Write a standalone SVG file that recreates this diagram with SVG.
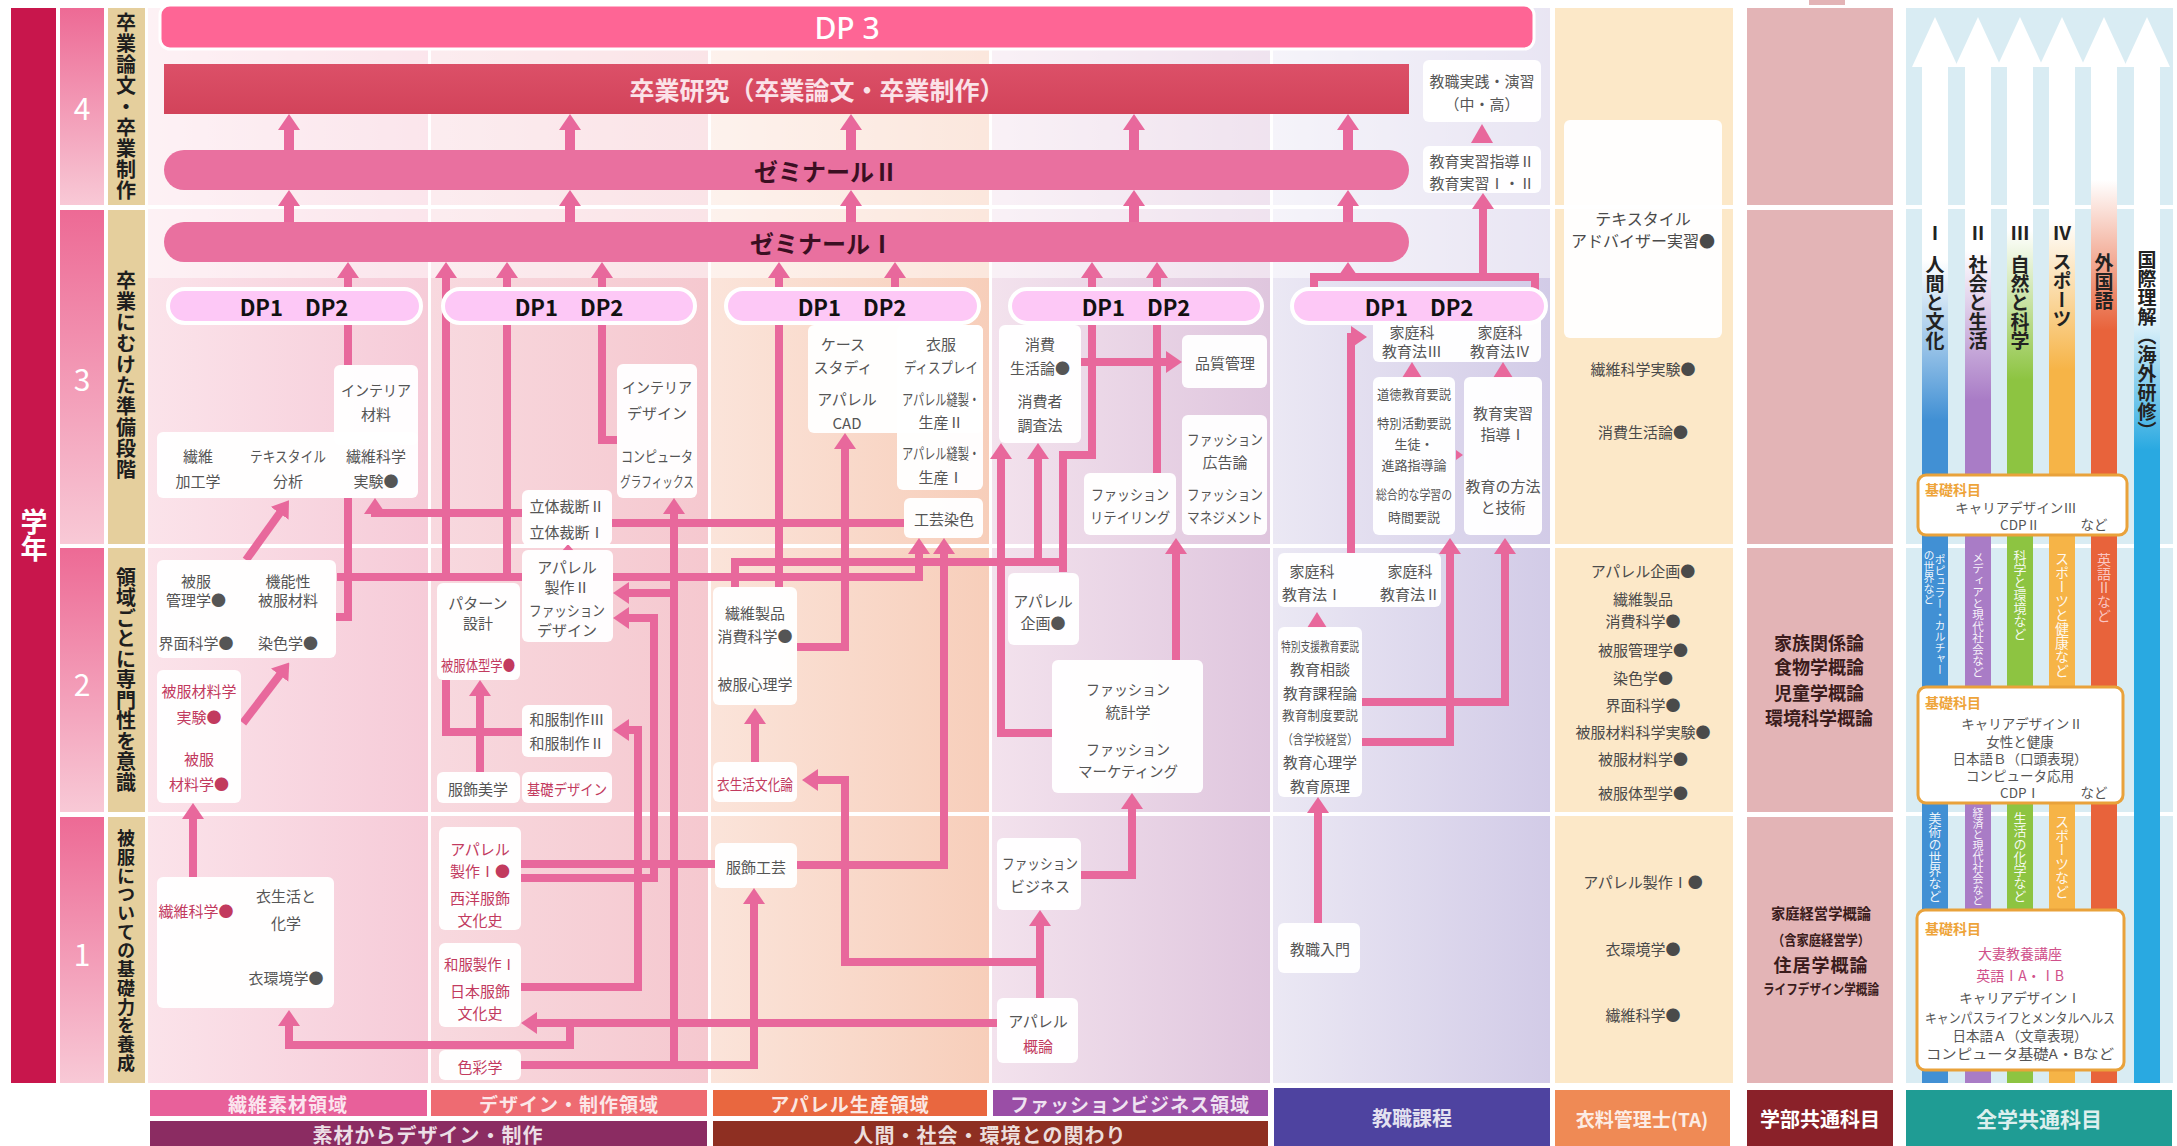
<svg xmlns="http://www.w3.org/2000/svg" width="2177" height="1146" viewBox="0 0 2177 1146">
<defs>
<style>
text{font-family:"Noto Sans CJK JP","Noto Sans",sans-serif}
.t{font-size:15px;fill:#555;text-anchor:middle;dominant-baseline:central}
.s{font-size:13px}
.r{fill:#c23a5e}
.bx{fill:#fff;opacity:.96}
.ln{fill:none;stroke:#e8689c;stroke-width:8}
.lw{fill:none;stroke:#e8689c;stroke-width:10}
.ar{marker-end:url(#ah)}
.ah{fill:#e8689c}
.pill{fill:#fdc8f6;stroke:#fff;stroke-width:4}
.dp{font-size:22px;font-weight:700;fill:#111;text-anchor:middle;dominant-baseline:central}
.v{writing-mode:vertical-rl;text-anchor:middle}
.lab{font-size:20px;font-weight:700;fill:#1e1e1e}
.bt{font-weight:700;text-anchor:middle;dominant-baseline:central}
.ta{font-size:15px;fill:#4a4a4a;text-anchor:middle;dominant-baseline:central}
.kb{fill:#fff;stroke:#e9a23b;stroke-width:3}
.kt{font-size:13.5px;fill:#555;text-anchor:middle;dominant-baseline:central}
.ko{font-size:14px;font-weight:700;fill:#eea43a;dominant-baseline:central}
.wv{writing-mode:vertical-rl;text-anchor:middle;fill:#fff;fill-opacity:.92}
.gl{font-size:19px;font-weight:700;fill:#222;writing-mode:vertical-rl;text-anchor:middle}
.gk{font-size:18px;font-weight:700;fill:#3b1c1c;text-anchor:middle;dominant-baseline:central}
</style>
<marker id="ah" viewBox="0 0 16 22" refX="4" refY="11" markerWidth="16" markerHeight="22" markerUnits="userSpaceOnUse" orient="auto"><path d="M0,0 L16,11 L0,22 z" fill="#e8689c"/></marker>
<linearGradient id="gy" x1="0" y1="0" x2="0" y2="1"><stop offset="0" stop-color="#ed6a95"/><stop offset="1" stop-color="#f8c9d6"/></linearGradient>
<linearGradient id="c1" x1="0" x2="1"><stop offset="0" stop-color="#fbe3ea"/><stop offset="1" stop-color="#f6cbd8"/></linearGradient>
<linearGradient id="c2" x1="0" x2="1"><stop offset="0" stop-color="#f8d9df"/><stop offset="1" stop-color="#f5c8cf"/></linearGradient>
<linearGradient id="c3" x1="0" x2="1"><stop offset="0" stop-color="#fbe4da"/><stop offset="1" stop-color="#f7ceba"/></linearGradient>
<linearGradient id="c4" x1="0" x2="1"><stop offset="0" stop-color="#f3e2ed"/><stop offset="1" stop-color="#dfc6de"/></linearGradient>
<linearGradient id="c5" x1="0" x2="1"><stop offset="0" stop-color="#ebe8f4"/><stop offset="1" stop-color="#d2cbe7"/></linearGradient>
<linearGradient id="k1" gradientUnits="userSpaceOnUse" x1="0" y1="260" x2="0" y2="420"><stop offset="0" stop-color="#fff"/><stop offset="1" stop-color="#4190d4"/></linearGradient>
<linearGradient id="k2" gradientUnits="userSpaceOnUse" x1="0" y1="250" x2="0" y2="400"><stop offset="0" stop-color="#fff"/><stop offset="1" stop-color="#a97cc6"/></linearGradient>
<linearGradient id="k3" gradientUnits="userSpaceOnUse" x1="0" y1="230" x2="0" y2="380"><stop offset="0" stop-color="#fff"/><stop offset="1" stop-color="#8dc441"/></linearGradient>
<linearGradient id="k4" gradientUnits="userSpaceOnUse" x1="0" y1="220" x2="0" y2="370"><stop offset="0" stop-color="#fff"/><stop offset="1" stop-color="#f6b447"/></linearGradient>
<linearGradient id="k5" gradientUnits="userSpaceOnUse" x1="0" y1="180" x2="0" y2="330"><stop offset="0" stop-color="#fff"/><stop offset="1" stop-color="#e8633b"/></linearGradient>
<linearGradient id="k6" gradientUnits="userSpaceOnUse" x1="0" y1="300" x2="0" y2="450"><stop offset="0" stop-color="#fff"/><stop offset="1" stop-color="#29a9e1"/></linearGradient>
<linearGradient id="gr" x1="0" y1="0" x2="0" y2="1"><stop offset="0" stop-color="#dc5068"/><stop offset="1" stop-color="#d2435a"/></linearGradient>
</defs>
<rect width="2177" height="1146" fill="#fff"/>

<g id="background">
<rect x="148" y="8" width="280" height="1075" fill="url(#c1)"/>
<rect x="431" y="8" width="277" height="1075" fill="url(#c2)"/>
<rect x="711" y="8" width="278" height="1075" fill="url(#c3)"/>
<rect x="992" y="8" width="278" height="1075" fill="url(#c4)"/>
<rect x="1273" y="8" width="277" height="1075" fill="url(#c5)"/>
<rect x="148" y="8" width="1402" height="270" fill="#fff" opacity="0.5"/>
<rect x="1555" y="8" width="178" height="1075" fill="#fce8c8"/>
<rect x="1747" y="8" width="146" height="197" fill="#e3b4b6"/>
<rect x="1747" y="210" width="146" height="334" fill="#e3b4b6"/>
<rect x="1747" y="548" width="146" height="264" fill="#e3b4b6"/>
<rect x="1747" y="817" width="146" height="266" fill="#e3b4b6"/>
<rect x="1809" y="0" width="36" height="5" fill="#e3b4b6"/>
<rect x="1906" y="8" width="267" height="1075" fill="#d9ecf3"/>
<rect x="146" y="205" width="2029" height="4" fill="#fff"/>
<rect x="146" y="544" width="2029" height="4" fill="#fff"/>
<rect x="146" y="812" width="2029" height="4" fill="#fff"/>
</g>

<g id="year-axis">
<rect x="11" y="8" width="45" height="1075" fill="#c8164c"/>
<text class="v" x="34" y="535" style="font-size:27px;font-weight:700;fill:#fff">学年</text>
<rect x="60" y="8" width="44" height="197" fill="url(#gy)"/>
<rect x="60" y="210" width="44" height="334" fill="url(#gy)"/>
<rect x="60" y="548" width="44" height="264" fill="url(#gy)"/>
<rect x="60" y="817" width="44" height="266" fill="url(#gy)"/>
<g style="font-size:30px;fill:#fff;text-anchor:middle;dominant-baseline:central">
<text x="82" y="107">4</text><text x="82" y="378">3</text><text x="82" y="683">2</text><text x="82" y="953">1</text>
</g>
<rect x="108" y="8" width="37" height="197" fill="#e5cf9d"/>
<rect x="108" y="210" width="37" height="334" fill="#e5cf9d"/>
<rect x="108" y="548" width="37" height="264" fill="#e5cf9d"/>
<rect x="108" y="817" width="37" height="266" fill="#e5cf9d"/>
<text class="v lab" x="126" y="107" style="letter-spacing:1px">卒業論文・卒業制作</text>
<text class="v lab" x="126" y="375" style="letter-spacing:1px">卒業にむけた準備段階</text>
<text class="v lab" x="126" y="680" style="letter-spacing:0.5px">領域ごとに専門性を意識</text>
<text class="v lab" x="126" y="951" style="font-size:18px;letter-spacing:0.7px">被服についての基礎力を養成</text>
</g>

<g id="zengaku-bars">
<path d="M1922,1083 V67 H1912 L1935,17 L1958,67 H1948 V1083 Z" fill="url(#k1)"/>
<path d="M1965,1083 V67 H1955 L1978,17 L2001,67 H1991 V1083 Z" fill="url(#k2)"/>
<path d="M2007,1083 V67 H1997 L2020,17 L2043,67 H2033 V1083 Z" fill="url(#k3)"/>
<path d="M2049,1083 V67 H2039 L2062,17 L2085,67 H2075 V1083 Z" fill="url(#k4)"/>
<path d="M2091,1083 V67 H2081 L2104,17 L2127,67 H2117 V1083 Z" fill="url(#k5)"/>
<path d="M2134,1083 V67 H2124 L2147,17 L2170,67 H2160 V1083 Z" fill="url(#k6)"/>
<text class="gl" x="1935" y="233">Ⅰ</text><text class="gl" x="1935" y="303">人間と文化</text>
<text class="gl" x="1978" y="233">Ⅱ</text><text class="gl" x="1978" y="303">社会と生活</text>
<text class="gl" x="2020" y="233">Ⅲ</text><text class="gl" x="2020" y="303">自然と科学</text>
<text class="gl" x="2062" y="233">Ⅳ</text><text class="gl" x="2062" y="290">スポーツ</text>
<text class="gl" x="2104" y="282">外国語</text>
<text class="gl" x="2147" y="345">国際理解（海外研修）</text>
<text class="wv" x="1940" y="615" style="font-size:11px">ポピュラー・カルチャー</text>
<text class="wv" x="1929" y="578" style="font-size:11px">の世界など</text>
<text class="wv" x="1978" y="615" style="font-size:11.5px">メディアと現代社会など</text>
<text class="wv" x="2020" y="595" style="font-size:13px">科学と環境など</text>
<text class="wv" x="2062" y="615" style="font-size:14px">スポーツと健康など</text>
<text class="wv" x="2104" y="588" style="font-size:14px;fill:#fcd0d0">英語Ⅱなど</text>
<text class="wv" x="1935" y="857" style="font-size:13px">美術の世界など</text>
<text class="wv" x="1978" y="857" style="font-size:11px">経済と現代社会など</text>
<text class="wv" x="2020" y="857" style="font-size:13px">生活の化学など</text>
<text class="wv" x="2062" y="857" style="font-size:14px">スポーツなど</text>
</g>

<g id="n-dp3">
<rect x="160" y="5" width="1374" height="44" rx="10" fill="#fe6595" stroke="#fff" stroke-width="3"/>
<text x="847" y="27" style="font-family:'Noto Sans',sans-serif;font-size:30px;font-weight:500;fill:#fff;text-anchor:middle;dominant-baseline:central">DP 3</text>
</g>
<g id="n-sotsuken">
<rect x="164" y="64" width="1245" height="50" fill="url(#gr)"/>
<text class="bt" x="817" y="89" style="font-size:25px;fill:#fbe2e8">卒業研究（卒業論文・卒業制作）</text>
</g>
<g id="n-seminar2">
<rect x="164" y="150" width="1245" height="40" rx="20" fill="#e9709f"/>
<text class="bt" x="826" y="170" style="font-size:24px;fill:#3b0f22">ゼミナールⅡ</text>
</g>
<g id="n-seminar1">
<rect x="164" y="222" width="1245" height="40" rx="20" fill="#e9709f"/>
<text class="bt" x="822" y="242" style="font-size:24px;fill:#3b0f22">ゼミナールⅠ</text>
</g>

<g id="connectors">
<path class="lw ar" d="M289,150 V126"/><path class="lw ar" d="M570,150 V126"/><path class="lw ar" d="M851,150 V126"/><path class="lw ar" d="M1134,150 V126"/><path class="lw ar" d="M1348,150 V126"/>
<path class="lw ar" d="M289,222 V202"/><path class="lw ar" d="M570,222 V202"/><path class="lw ar" d="M851,222 V202"/><path class="lw ar" d="M1134,222 V202"/><path class="lw ar" d="M1348,222 V202"/>
<path class="ln ar" d="M348,365 V274"/>
<path class="ln ar" d="M446,577 V274"/>
<path class="ln ar" d="M507,577 V274"/>
<path class="ln ar" d="M617,440 H602 V274"/>
<path class="ln ar" d="M779,587 V274"/>
<path class="ln ar" d="M895,325 V274"/>
<path class="ln ar" d="M1063,572 V455 H1092 V274"/>
<path class="ln ar" d="M1157,473 V274"/>
<path class="ln" d="M1314,292 V277 H1535 V292"/>
<polygon class="ah" points="1337,278 1348,262 1359,278"/>
<path class="ln ar" d="M1483,277 V205"/>
<polygon class="ah" points="1471,143 1482,124 1493,143"/>
<path class="ln" d="M336,617 H348 V498"/>
<path class="ln" d="M337,577 H522"/>
<path class="ln" d="M612,523 H904"/>
<path class="ln ar" d="M522,513 H375 V510"/>
<path class="ln ar" d="M613,577 H919 V550"/>
<path class="ln ar" d="M797,647 H845 V445"/>
<path class="ln" d="M735,587 V562 H1063"/>
<path class="ln ar" d="M1038,562 V455"/>
<path class="ln ar" d="M1052,733 H1001 V455"/>
<path class="ln ar" d="M1081,362 H1170"/>
<path class="ln ar" d="M1176,660 V550"/>
<path class="ln ar" d="M797,865 H944 V550"/>
<path class="ln ar" d="M674,1065 V510"/>
<path class="ln ar" d="M521,1065 H754 V900"/>
<path class="ln ar" d="M674,593 H625"/>
<path class="ln ar" d="M521,878 H654 V618 H625"/>
<path class="ln" d="M521,864 H715"/>
<path class="ln ar" d="M521,987 H638 V730 H625"/>
<path class="ln ar" d="M997,1023 H533"/>
<path class="ln ar" d="M570,1023 V1045 H289 V1022"/>
<path class="ln ar" d="M1040,998 V922"/>
<path class="ln ar" d="M1040,962 H845 V780 H814"/>
<path class="ln ar" d="M1081,875 H1132 V805"/>
<path class="ln ar" d="M755,762 V720"/>
<path class="ln ar" d="M480,772 V692"/>
<path class="ln" d="M522,732 H446 V680"/>
<path class="ln ar" d="M193,877 V815"/>
<path class="ln ar" d="M246,560 L282,510"/>
<path class="ln ar" d="M243,723 L282,672"/>
<path class="ln ar" d="M1351,553 V337 H1355"/>
<polygon class="ah" points="1402,378 1412,362 1422,378"/>
<polygon class="ah" points="1493,378 1503,362 1513,378"/>
<polygon class="ah" points="1307,628 1317,612 1327,628"/>
<polygon class="ah" points="1456,450 1463,455 1456,460"/>
<polygon class="ah" points="562,551 568,544 574,551"/>
<path class="ln ar" d="M1362,702 H1505 V550"/>
<path class="ln ar" d="M1362,742 H1450 V550"/>
<path class="ln ar" d="M1318,923 V809"/>
</g>

<g id="col-fiber">
<g id="n-interior-zairyo"><rect class="bx" x="334" y="365" width="84" height="80" rx="6"/><text class="t" x="376" y="389" textLength="70" lengthAdjust="spacingAndGlyphs">インテリア</text><text class="t" x="376" y="413">材料</text></g>
<g id="n-seni-y3"><rect class="bx" x="157" y="432" width="261" height="66" rx="6"/>
<text class="t" x="198" y="455">繊維</text><text class="t" x="198" y="480">加工学</text>
<text class="t" x="288" y="455" textLength="76" lengthAdjust="spacingAndGlyphs">テキスタイル</text><text class="t" x="288" y="480">分析</text>
<text class="t" x="376" y="455">繊維科学</text><text class="t" x="376" y="480">実験●</text></g>
<g id="n-hifuku-kanri"><rect class="bx" x="157" y="560" width="179" height="98" rx="6"/>
<text class="t" x="196" y="580">被服</text><text class="t" x="196" y="599">管理学●</text>
<text class="t" x="288" y="580">機能性</text><text class="t" x="288" y="599">被服材料</text>
<text class="t" x="196" y="642">界面科学●</text><text class="t" x="288" y="642">染色学●</text></g>
<g id="n-hifuku-zairyo"><rect class="bx" x="157" y="670" width="84" height="133" rx="6"/>
<text class="t r" x="199" y="690">被服材料学</text><text class="t r" x="199" y="716">実験●</text>
<text class="t r" x="199" y="758">被服</text><text class="t r" x="199" y="783">材料学●</text></g>
<g id="n-seni-y1"><rect class="bx" x="157" y="877" width="177" height="131" rx="6"/>
<text class="t r" x="196" y="910">繊維科学●</text>
<text class="t" x="286" y="895">衣生活と</text><text class="t" x="286" y="922">化学</text>
<text class="t" x="286" y="977">衣環境学●</text></g>
</g>

<g id="col-design">
<g id="n-interior-design"><rect class="bx" x="617" y="364" width="80" height="134" rx="6"/>
<text class="t" x="657" y="386" textLength="70" lengthAdjust="spacingAndGlyphs">インテリア</text><text class="t" x="657" y="412">デザイン</text>
<text class="t" x="657" y="455" textLength="72" lengthAdjust="spacingAndGlyphs">コンピュータ</text><text class="t" x="657" y="480" textLength="74" lengthAdjust="spacingAndGlyphs">グラフィックス</text></g>
<g id="n-rittai"><rect class="bx" x="522" y="490" width="90" height="55" rx="6"/>
<text class="t" x="567" y="505">立体裁断Ⅱ</text><text class="t" x="567" y="531">立体裁断Ⅰ</text></g>
<g id="n-apparel2"><rect class="bx" x="522" y="550" width="91" height="92" rx="6"/>
<text class="t" x="567" y="566">アパレル</text><text class="t" x="567" y="586">製作Ⅱ</text>
<text class="t" x="567" y="609" textLength="76" lengthAdjust="spacingAndGlyphs">ファッション</text><text class="t" x="567" y="629">デザイン</text></g>
<g id="n-pattern"><rect class="bx" x="437" y="583" width="83" height="97" rx="6"/>
<text class="t" x="478" y="602">パターン</text><text class="t" x="478" y="622">設計</text>
<text class="t r" x="478" y="664" textLength="74" lengthAdjust="spacingAndGlyphs">被服体型学●</text></g>
<g id="n-wafuku3"><rect class="bx" x="522" y="705" width="90" height="52" rx="6"/>
<text class="t" x="567" y="718">和服制作Ⅲ</text><text class="t" x="567" y="742">和服制作Ⅱ</text></g>
<g id="n-fukushoku-bigaku"><rect class="bx" x="437" y="772" width="83" height="31" rx="6"/><text class="t" x="478" y="788">服飾美学</text></g>
<g id="n-kiso-design"><rect class="bx" x="522" y="772" width="90" height="31" rx="6"/><text class="t r" x="567" y="788" textLength="80" lengthAdjust="spacingAndGlyphs">基礎デザイン</text></g>
<g id="n-apparel1"><rect class="bx" x="439" y="827" width="82" height="103" rx="6"/>
<text class="t r" x="480" y="848">アパレル</text><text class="t r" x="480" y="870">製作Ⅰ●</text>
<text class="t r" x="480" y="897">西洋服飾</text><text class="t r" x="480" y="919">文化史</text></g>
<g id="n-wafuku1"><rect class="bx" x="439" y="943" width="82" height="84" rx="6"/>
<text class="t r" x="480" y="963" textLength="72" lengthAdjust="spacingAndGlyphs">和服製作Ⅰ</text><text class="t r" x="480" y="990">日本服飾</text><text class="t r" x="480" y="1012">文化史</text></g>
<g id="n-shikisai"><rect class="bx" x="439" y="1050" width="82" height="30" rx="6"/><text class="t r" x="480" y="1066">色彩学</text></g>
</g>

<g id="col-apparel">
<g id="n-case"><rect class="bx" x="808" y="325" width="175" height="108" rx="6"/><rect class="bx" x="897" y="325" width="86" height="165" rx="6"/>
<text class="t" x="843" y="343">ケース</text><text class="t" x="843" y="366">スタディ</text>
<text class="t" x="941" y="343">衣服</text><text class="t" x="941" y="366" textLength="74" lengthAdjust="spacingAndGlyphs">ディスプレイ</text>
<text class="t" x="847" y="398">アパレル</text><text class="t" x="847" y="422">CAD</text>
<text class="t" x="941" y="398" textLength="78" lengthAdjust="spacingAndGlyphs">アパレル縫製・</text><text class="t" x="941" y="421">生産Ⅱ</text>
<text class="t" x="941" y="452" textLength="78" lengthAdjust="spacingAndGlyphs">アパレル縫製・</text><text class="t" x="941" y="476">生産Ⅰ</text></g>
<g id="n-kogei-senshoku"><rect class="bx" x="904" y="498" width="79" height="40" rx="6"/><text class="t" x="944" y="518">工芸染色</text></g>
<g id="n-seni-seihin"><rect class="bx" x="713" y="587" width="84" height="118" rx="6"/>
<text class="t" x="755" y="612">繊維製品</text><text class="t" x="755" y="635">消費科学●</text><text class="t" x="755" y="683">被服心理学</text></g>
<g id="n-iseikatsu-bunka"><rect class="bx" x="713" y="762" width="84" height="40" rx="6"/><text class="t r" x="755" y="783" textLength="76" lengthAdjust="spacingAndGlyphs">衣生活文化論</text></g>
<g id="n-fukushoku-kogei"><rect class="bx" x="715" y="843" width="82" height="45" rx="6"/><text class="t" x="756" y="866">服飾工芸</text></g>
</g>

<g id="col-business">
<g id="n-shohi"><rect class="bx" x="999" y="325" width="82" height="118" rx="6"/>
<text class="t" x="1040" y="343">消費</text><text class="t" x="1040" y="367">生活論●</text>
<text class="t" x="1040" y="400">消費者</text><text class="t" x="1040" y="424">調査法</text></g>
<g id="n-hinshitsu"><rect class="bx" x="1182" y="335" width="85" height="53" rx="6"/><text class="t" x="1225" y="362">品質管理</text></g>
<g id="n-kokoku"><rect class="bx" x="1182" y="415" width="85" height="120" rx="6"/>
<text class="t" x="1225" y="438" textLength="76" lengthAdjust="spacingAndGlyphs">ファッション</text><text class="t" x="1225" y="461">広告論</text>
<text class="t" x="1225" y="493" textLength="76" lengthAdjust="spacingAndGlyphs">ファッション</text><text class="t" x="1225" y="516" textLength="76" lengthAdjust="spacingAndGlyphs">マネジメント</text></g>
<g id="n-retailing"><rect class="bx" x="1084" y="473" width="92" height="62" rx="6"/>
<text class="t" x="1130" y="493" textLength="78" lengthAdjust="spacingAndGlyphs">ファッション</text><text class="t" x="1130" y="516" textLength="80" lengthAdjust="spacingAndGlyphs">リテイリング</text></g>
<g id="n-apparel-kikaku"><rect class="bx" x="1008" y="573" width="71" height="72" rx="6"/>
<text class="t" x="1043" y="600">アパレル</text><text class="t" x="1043" y="622">企画●</text></g>
<g id="n-toukei"><rect class="bx" x="1052" y="660" width="151" height="133" rx="6"/>
<text class="t" x="1128" y="688" textLength="84" lengthAdjust="spacingAndGlyphs">ファッション</text><text class="t" x="1128" y="711">統計学</text>
<text class="t" x="1128" y="748" textLength="84" lengthAdjust="spacingAndGlyphs">ファッション</text><text class="t" x="1128" y="770" textLength="100" lengthAdjust="spacingAndGlyphs">マーケティング</text></g>
<g id="n-fashion-business"><rect class="bx" x="997" y="838" width="84" height="72" rx="6"/>
<text class="t" x="1040" y="862" textLength="76" lengthAdjust="spacingAndGlyphs">ファッション</text><text class="t" x="1040" y="885">ビジネス</text></g>
<g id="n-apparel-gairon"><rect class="bx" x="997" y="998" width="81" height="65" rx="6"/>
<text class="t" x="1038" y="1020">アパレル</text><text class="t r" x="1038" y="1045">概論</text></g>
</g>

<g id="col-kyoshoku">
<g id="n-kyoshoku-jissen"><rect class="bx" x="1423" y="60" width="118" height="62" rx="6"/>
<text class="t" x="1482" y="80">教職実践・演習</text><text class="t" x="1482" y="103">（中・高）</text></g>
<g id="n-kyoiku-jisshu2"><rect class="bx" x="1423" y="146" width="118" height="47" rx="6"/>
<text class="t" x="1482" y="160">教育実習指導Ⅱ</text><text class="t" x="1482" y="182">教育実習Ⅰ・Ⅱ</text></g>
<g id="n-katei34"><rect class="bx" x="1373" y="312" width="168" height="50" rx="6"/>
<text class="t" x="1412" y="331">家庭科</text><text class="t" x="1412" y="350">教育法Ⅲ</text>
<text class="t" x="1500" y="331">家庭科</text><text class="t" x="1500" y="350">教育法Ⅳ</text></g>
<g id="n-dotoku"><rect class="bx" x="1373" y="377" width="82" height="158" rx="6"/>
<text class="t s" x="1414" y="393" textLength="74" lengthAdjust="spacingAndGlyphs">道徳教育要説</text>
<text class="t s" x="1414" y="422" textLength="74" lengthAdjust="spacingAndGlyphs">特別活動要説</text>
<text class="t s" x="1414" y="443">生徒・</text>
<text class="t s" x="1414" y="464">進路指導論</text>
<text class="t s" x="1414" y="493" textLength="76" lengthAdjust="spacingAndGlyphs">総合的な学習の</text>
<text class="t s" x="1414" y="516">時間要説</text></g>
<g id="n-jisshu-shido1"><rect class="bx" x="1464" y="377" width="78" height="158" rx="6"/>
<text class="t" x="1503" y="412">教育実習</text><text class="t" x="1503" y="433">指導Ⅰ</text>
<text class="t" x="1503" y="485">教育の方法</text><text class="t" x="1503" y="506">と技術</text></g>
<g id="n-katei12"><rect class="bx" x="1278" y="553" width="163" height="54" rx="6"/>
<text class="t" x="1312" y="570">家庭科</text><text class="t" x="1312" y="593">教育法Ⅰ</text>
<text class="t" x="1410" y="570">家庭科</text><text class="t" x="1410" y="593">教育法Ⅱ</text></g>
<g id="n-kyoiku-list"><rect class="bx" x="1278" y="627" width="84" height="170" rx="6"/>
<text class="t s" x="1320" y="645" textLength="78" lengthAdjust="spacingAndGlyphs">特別支援教育要説</text>
<text class="t" x="1320" y="668">教育相談</text>
<text class="t" x="1320" y="692" textLength="74" lengthAdjust="spacingAndGlyphs">教育課程論</text>
<text class="t s" x="1320" y="714" textLength="76" lengthAdjust="spacingAndGlyphs">教育制度要説</text>
<text class="t s" x="1320" y="738" textLength="76" lengthAdjust="spacingAndGlyphs">（含学校経営）</text>
<text class="t" x="1320" y="761" textLength="74" lengthAdjust="spacingAndGlyphs">教育心理学</text>
<text class="t" x="1320" y="785">教育原理</text></g>
<g id="n-kyoshoku-nyumon"><rect class="bx" x="1278" y="923" width="82" height="50" rx="6"/><text class="t" x="1320" y="948">教職入門</text></g>
</g>

<g id="pills">
<rect class="pill" x="168" y="289" width="253" height="34" rx="17"/><text class="dp" x="294" y="306">DP1　DP2</text>
<rect class="pill" x="443" y="289" width="252" height="34" rx="17"/><text class="dp" x="569" y="306">DP1　DP2</text>
<rect class="pill" x="726" y="289" width="253" height="34" rx="17"/><text class="dp" x="852" y="306">DP1　DP2</text>
<rect class="pill" x="1010" y="289" width="252" height="34" rx="17"/><text class="dp" x="1136" y="306">DP1　DP2</text>
<rect class="pill" x="1292" y="289" width="254" height="34" rx="17"/><text class="dp" x="1419" y="306">DP1　DP2</text>
</g>

<g id="col-ta">
<rect class="bx" x="1564" y="120" width="158" height="218" rx="6"/>
<text class="ta" x="1643" y="218" style="font-size:16px">テキスタイル</text>
<text class="ta" x="1643" y="240" style="font-size:16px">アドバイザー実習●</text>
<text class="ta" x="1643" y="368">繊維科学実験●</text>
<text class="ta" x="1643" y="431">消費生活論●</text>
<text class="ta" x="1643" y="570">アパレル企画●</text>
<text class="ta" x="1643" y="598">繊維製品</text>
<text class="ta" x="1643" y="620">消費科学●</text>
<text class="ta" x="1643" y="649">被服管理学●</text>
<text class="ta" x="1643" y="677">染色学●</text>
<text class="ta" x="1643" y="704">界面科学●</text>
<text class="ta r" x="1643" y="731">被服材料科学実験●</text>
<text class="ta r" x="1643" y="758">被服材料学●</text>
<text class="ta r" x="1643" y="792">被服体型学●</text>
<text class="ta r" x="1643" y="881">アパレル製作Ⅰ●</text>
<text class="ta" x="1643" y="948">衣環境学●</text>
<text class="ta r" x="1643" y="1014">繊維科学●</text>
</g>

<g id="col-gakubu">
<text class="gk" x="1819" y="642">家族関係論</text>
<text class="gk" x="1819" y="666">食物学概論</text>
<text class="gk" x="1819" y="692">児童学概論</text>
<text class="gk" x="1819" y="717">環境科学概論</text>
<text class="gk" x="1821" y="912" style="font-size:15px" textLength="100" lengthAdjust="spacingAndGlyphs">家庭経営学概論</text>
<text class="gk" x="1821" y="939" style="font-size:14px" textLength="98" lengthAdjust="spacingAndGlyphs">（含家庭経営学）</text>
<text class="gk" x="1821" y="964" style="letter-spacing:1px">住居学概論</text>
<text class="gk" x="1821" y="988" style="font-size:14px" textLength="116" lengthAdjust="spacingAndGlyphs">ライフデザイン学概論</text>
</g>

<g id="col-zengaku-boxes">
<g id="n-kiso3"><rect class="kb" x="1918" y="475" width="209" height="60" rx="8"/>
<text class="ko" x="1925" y="489">基礎科目</text>
<text class="kt" x="2016" y="507">キャリアデザインⅢ</text>
<text class="kt" x="2020" y="524">CDPⅡ</text><text class="kt" x="2094" y="524">など</text></g>
<g id="n-kiso2"><rect class="kb" x="1918" y="687" width="205" height="116" rx="8"/>
<text class="ko" x="1925" y="702">基礎科目</text>
<text class="kt" x="2022" y="723">キャリアデザインⅡ</text>
<text class="kt" x="2020" y="741">女性と健康</text>
<text class="kt" x="2020" y="758">日本語Ｂ（口頭表現）</text>
<text class="kt" x="2020" y="775">コンピュータ応用</text>
<text class="kt" x="2020" y="792">CDPⅠ</text><text class="kt" x="2094" y="792">など</text></g>
<g id="n-kiso1"><rect class="kb" x="1917" y="910" width="207" height="160" rx="8"/>
<text class="ko" x="1925" y="928">基礎科目</text>
<text class="kt" x="2020" y="953" style="fill:#d0508a;font-size:14px">大妻教養講座</text>
<text class="kt" x="2020" y="975" style="fill:#d0508a;font-size:14px">英語ⅠA・ⅠB</text>
<text class="kt" x="2020" y="997">キャリアデザインⅠ</text>
<text class="kt" x="2020" y="1017" textLength="190" lengthAdjust="spacingAndGlyphs">キャンパスライフとメンタルヘルス</text>
<text class="kt" x="2020" y="1035">日本語Ａ（文章表現）</text>
<text class="kt" x="2020" y="1053" textLength="188" lengthAdjust="spacingAndGlyphs">コンピュータ基礎A・Bなど</text></g>
</g>

<g id="bottom-labels">
<rect x="150" y="1090" width="277" height="26" fill="#e8609a"/>
<rect x="431" y="1090" width="276" height="26" fill="#ee6b72"/>
<rect x="713" y="1090" width="274" height="26" fill="#e9673f"/>
<rect x="993" y="1090" width="275" height="26" fill="#9a4ea6"/>
<rect x="150" y="1121" width="557" height="25" fill="#8b2c62"/>
<rect x="713" y="1121" width="555" height="25" fill="#8e2f22"/>
<rect x="1274" y="1088" width="276" height="58" fill="#4e43a0"/>
<rect x="1555" y="1090" width="175" height="56" fill="#ef8a55"/>
<rect x="1747" y="1090" width="146" height="56" fill="#8a2129"/>
<rect x="1906" y="1090" width="266" height="56" fill="#1f9c94"/>
<g style="fill:#fff;fill-opacity:.85">
<text class="bt" x="288" y="1103" style="font-size:19px;letter-spacing:1px">繊維素材領域</text>
<text class="bt" x="569" y="1103" style="font-size:19px;letter-spacing:1px">デザイン・制作領域</text>
<text class="bt" x="850" y="1103" style="font-size:19px;letter-spacing:1px">アパレル生産領域</text>
<text class="bt" x="1130" y="1103" style="font-size:19px;letter-spacing:1px">ファッションビジネス領域</text>
<text class="bt" x="428" y="1134" style="font-size:20px;letter-spacing:1px">素材からデザイン・制作</text>
<text class="bt" x="990" y="1134" style="font-size:20px;letter-spacing:1px">人間・社会・環境との関わり</text>
<text class="bt" x="1412" y="1117" style="font-size:20px">教職課程</text>
<text class="bt" x="1642" y="1118" style="font-size:19px">衣料管理士(TA)</text>
<text class="bt" x="1820" y="1118" style="font-size:20px;fill-opacity:1">学部共通科目</text>
<text class="bt" x="2039" y="1118" style="font-size:21px">全学共通科目</text>
</g>
</g>
</svg>
